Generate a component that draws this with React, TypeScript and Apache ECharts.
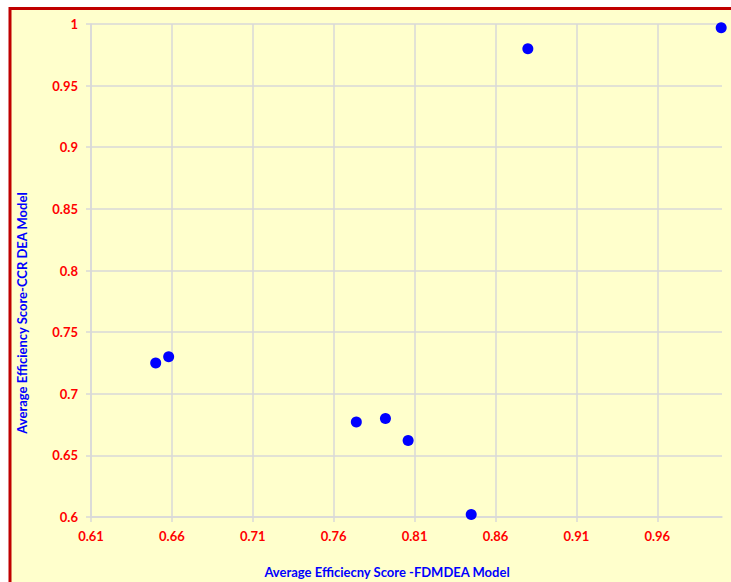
import React, { useEffect, useRef } from "react";
import * as echarts from "echarts";

const fdmdeaScores = [0.65, 0.658, 0.774, 0.792, 0.806, 0.845, 0.88, 0.9995];
const ccrScores = [0.725, 0.73, 0.677, 0.68, 0.662, 0.602, 0.98, 0.997];
const xTitle = "Average Efficiecny Score -FDMDEA Model";
const yTitle = "Average Efficiency Score-CCR DEA Model";

const fmt = (v: number) => String(+Number(v).toFixed(2));

export default function App() {
  const ref = useRef<HTMLDivElement>(null);
  useEffect(() => {
    if (!ref.current) return;
    const chart = echarts.init(ref.current, null, { renderer: "svg" });
    const labelStyle = {
      color: "#FF0000",
      fontWeight: "bold" as const,
      fontSize: 13,
      fontFamily: "Lato",
    };
    chart.setOption({
      animation: false,
      backgroundColor: "#FFFFFF",
      graphic: [
        {
          type: "rect",
          z: -10,
          silent: true,
          shape: { x: 10, y: 8.5, width: 800, height: 700 },
          style: { fill: "#FFFFCC", stroke: "#C00000", lineWidth: 3 },
        },
        {
          type: "text",
          x: 387,
          y: 572,
          style: {
            text: xTitle,
            fill: "#0000FF",
            font: "bold 13px Lato",
            textAlign: "center",
            textVerticalAlign: "middle",
          },
        },
        {
          type: "text",
          x: 21.5,
          y: 313,
          rotation: Math.PI / 2,
          style: {
            text: yTitle,
            fill: "#0000FF",
            font: "bold 13px Lato",
            textAlign: "center",
            textVerticalAlign: "middle",
          },
        },
      ],
      grid: { left: 91, top: 24, width: 631, height: 493, containLabel: false },
      xAxis: {
        type: "value",
        min: 0.61,
        max: 1.0,
        interval: 0.05,
        axisLine: { show: true, lineStyle: { color: "#D9D9D9", width: 1.5 } },
        axisTick: { show: true, length: 5, lineStyle: { color: "#D9D9D9", width: 1.5 } },
        axisLabel: { ...labelStyle, margin: 12, showMaxLabel: false, formatter: fmt },
        splitLine: { show: true, showMaxLine: false, lineStyle: { color: "#D9D9D9", width: 1.5 } },
      },
      yAxis: {
        type: "value",
        min: 0.6,
        max: 1,
        interval: 0.05,
        axisLine: { show: true, lineStyle: { color: "#D9D9D9", width: 1.5 } },
        axisTick: { show: true, length: 5, lineStyle: { color: "#D9D9D9", width: 1.5 } },
        axisLabel: { ...labelStyle, margin: 13, formatter: fmt },
        splitLine: { show: true, lineStyle: { color: "#D9D9D9", width: 1.5 } },
      },
      series: [
        {
          type: "scatter",
          symbol: "circle",
          symbolSize: 11,
          itemStyle: { color: "#0000FF", opacity: 1 },
          data: fdmdeaScores.map((x, i) => [x, ccrScores[i]]),
          clip: false,
        },
      ],
    });
    return () => chart.dispose();
  }, []);
  return (
    <div
      ref={ref}
      style={{ position: "fixed", left: 0, top: 0, width: 731, height: 582 }}
    />
  );
}
